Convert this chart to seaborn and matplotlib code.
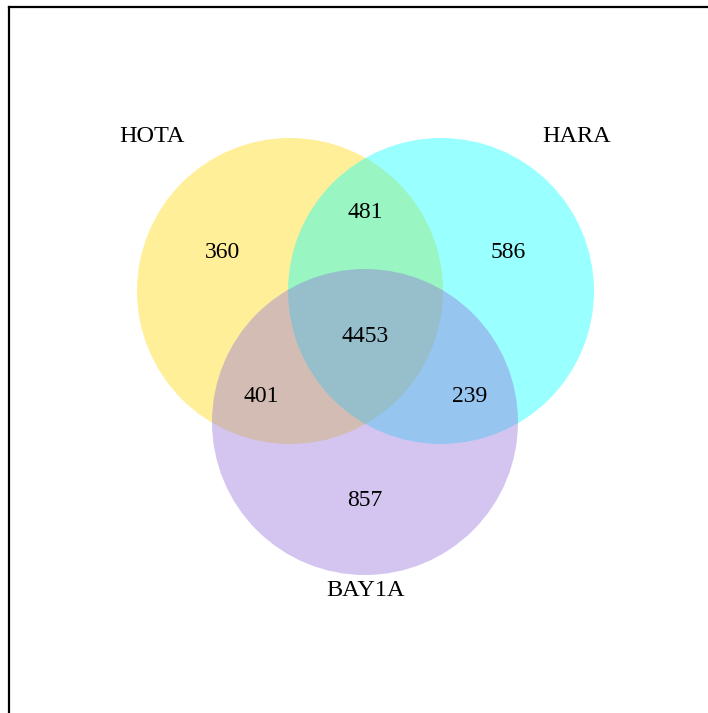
import matplotlib
matplotlib.use("Agg")
import matplotlib.pyplot as plt
from matplotlib.patches import Circle
import seaborn as sns

# Data
sets = ["HOTA", "HARA", "BAY1A"]
fills = ["#FFD700", "#00FFFF", "#9370DB"]
region_names = ["HOTA only", "HOTA&HARA", "HARA only", "all", "HOTA&BAY1A", "HARA&BAY1A", "BAY1A only"]
region_counts = [360, 481, 586, 4453, 401, 239, 857]

# Layout (pixel space)
circle_centers = [(290, 291), (441, 291), (365, 422)]
radius = 153
set_label_pos = [(152, 136), (577, 136), (366, 590)]
region_pos = [(223, 253), (365, 213), (508, 253), (365, 336), (261, 396), (470, 396), (365, 500)]

sns.set_theme(style="white")
plt.rcParams["font.family"] = ["Liberation Serif", "DejaVu Serif"]

W, H = 708, 713
fig = plt.figure(figsize=(W / 100, H / 100), dpi=100)
ax = fig.add_axes([0, 0, 1, 1])
ax.set_xlim(0, W)
ax.set_ylim(H, 0)
ax.set_axis_off()

for (cx, cy), col in zip(circle_centers, fills):
    ax.add_patch(Circle((cx, cy), radius, facecolor=col, alpha=0.4, edgecolor="none"))

for name, (x, y) in zip(sets, set_label_pos):
    ax.text(x, y, name, ha="center", va="center", fontsize=17.5, color="black")

for cnt, (x, y) in zip(region_counts, region_pos):
    ax.text(x, y, str(cnt), ha="center", va="center", fontsize=17, color="black")

# partial frame (top and left edges only)
ax.plot([9, W + 5], [7, 7], color="black", lw=1.6, solid_capstyle="projecting", clip_on=False)
ax.plot([9, 9], [7, H + 5], color="black", lw=1.6, solid_capstyle="projecting", clip_on=False)

fig.savefig("out.png", dpi=100)
